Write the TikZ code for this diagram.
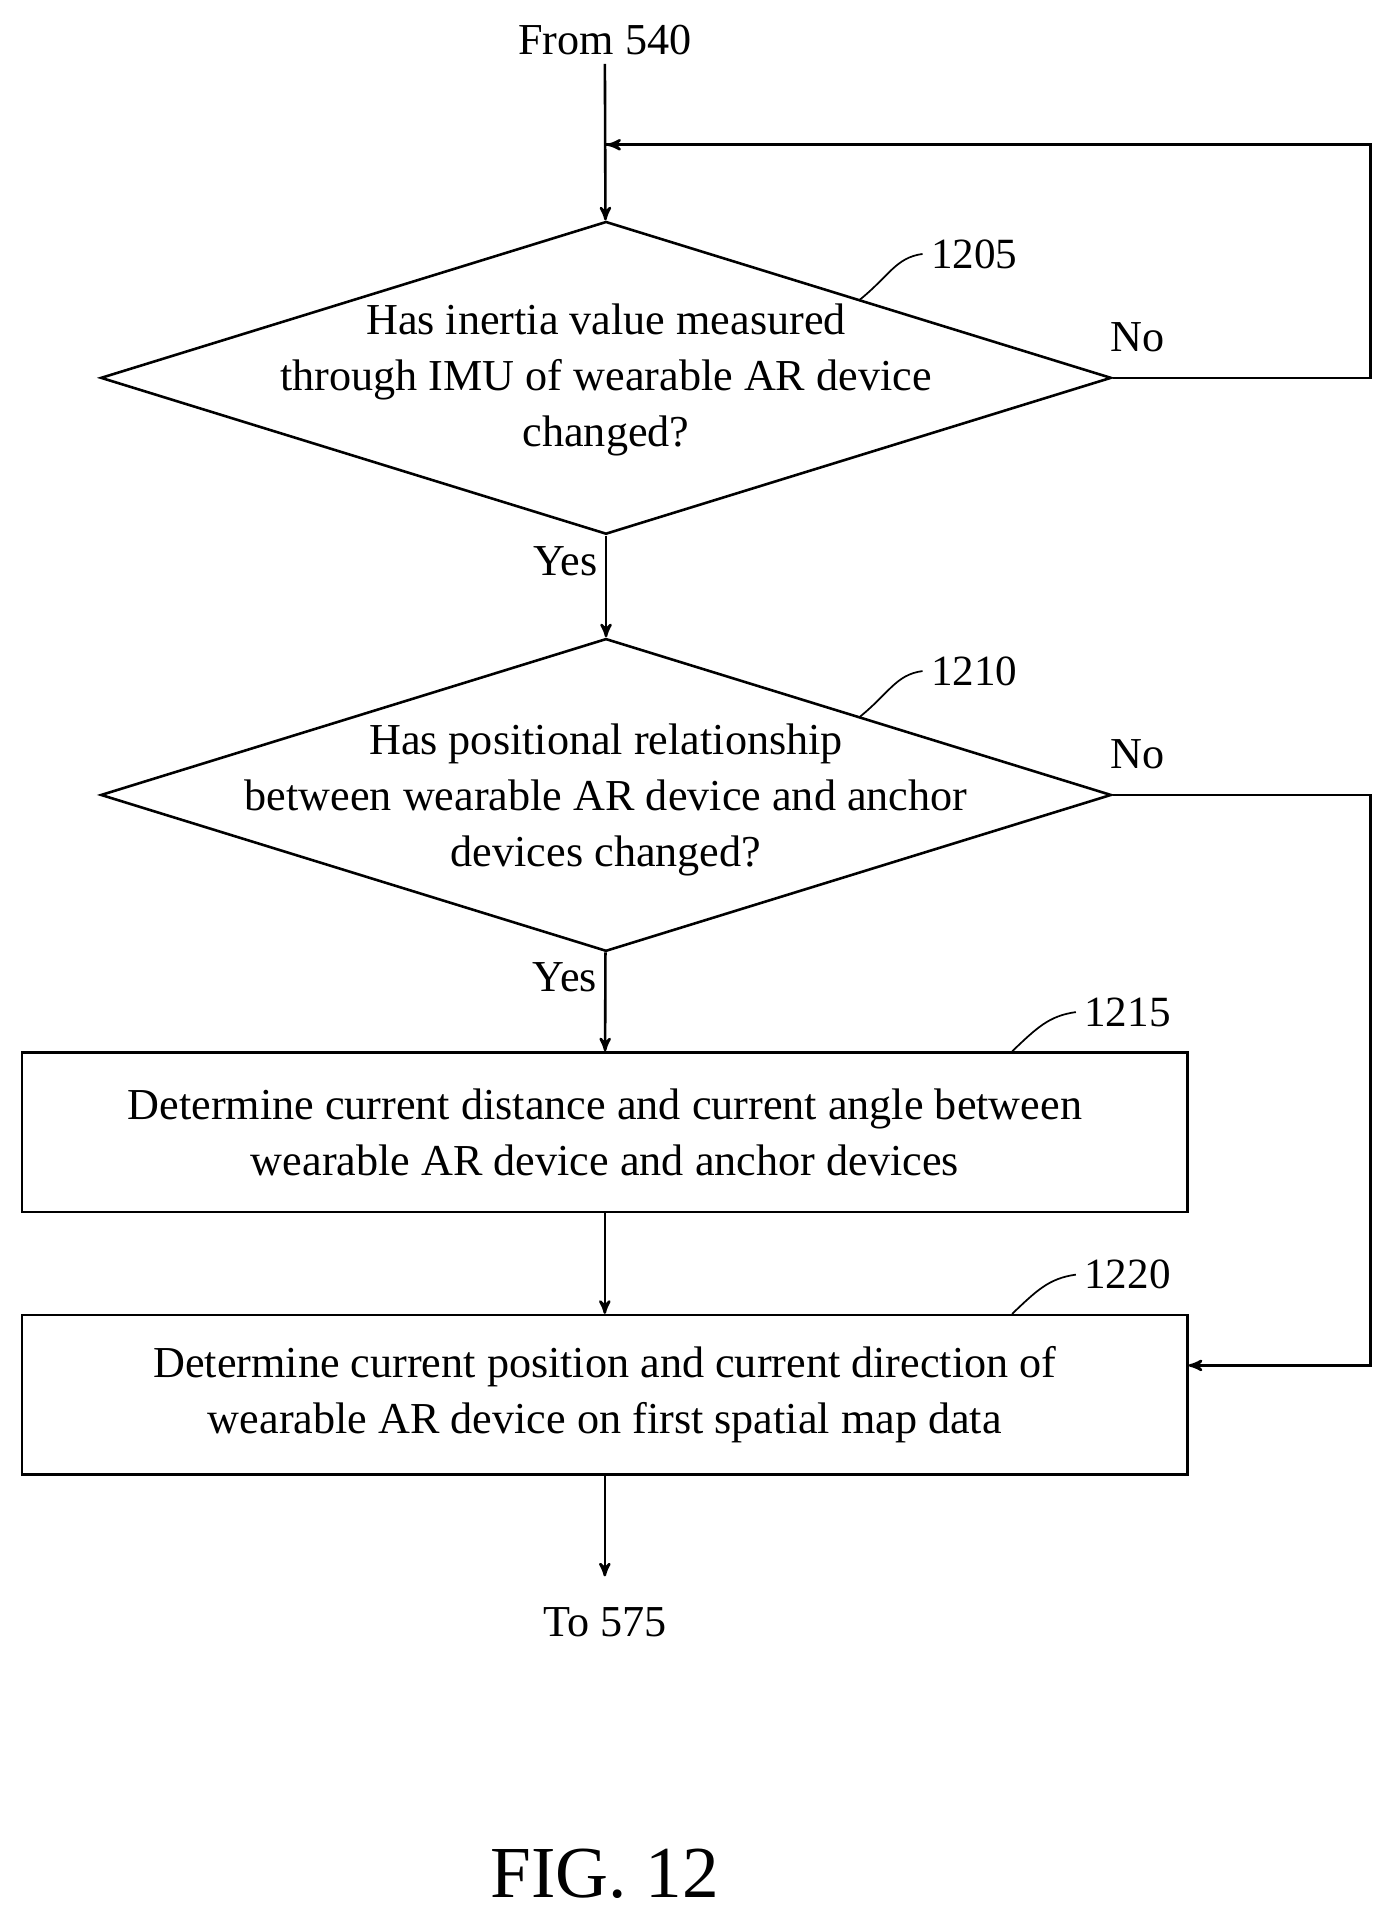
\documentclass[tikz,border=0pt]{standalone}
\usepackage{fontspec}
\setmainfont{Liberation Serif}
\usetikzlibrary{arrows,shapes.geometric}

\begin{document}
\begin{tikzpicture}[x=0.02cm,y=-0.02cm,->,>=stealth',line width=1.2pt,
  txt/.style={font=\fontsize{20.5}{26}\selectfont,align=center},
  decision node/.style={diamond,draw,inner sep=0pt,
        minimum width=16.48cm,minimum height=5.1cm},
  step node/.style={rectangle,draw,txt,minimum width=19cm,minimum height=2.6cm},
  ref label/.style={font=\fontsize{20}{23}\selectfont,anchor=west}]
  \useasboundingbox (0,0) rectangle (1130,1561);
  \node[txt] (start) at (493,33) {From 540};
  \node[decision node] (1205) at (494,308) {};
  \node[txt] (q1205) at (494,310) {Has inertia value measured\\through IMU of wearable AR device\\changed?};
  \node[decision node] (1210) at (494,648) {};
  \node[txt] (q1210) at (494,652) {Has positional relationship\\between wearable AR device and anchor\\devices changed?};
  \node[step node] (1215) at (493,923) {Determine current distance and current angle between\\wearable AR device and anchor devices};
  \node[step node] (1220) at (493,1137) {Determine current position and current direction of\\wearable AR device on first spatial map data};
  \node[txt] (end) at (493,1322) {To 575};
  \coordinate (loop) at (493,118);
  \coordinate (stop) at (493,1285);

  \path
    (start) edge (1205)
    (1205) edge node[txt,left,pos=0.25]{Yes} (1210)
    (1210) edge node[txt,left,pos=0.25]{Yes} (1215)
    (1215) edge (1220)
    (1220) edge (stop);
  \draw[-] (1205.east) -- (1117,308) -- (1117,118) -- (loop);
  \draw[->] (1117,118) -- (495,118);
  \draw (1210.east) -- (1117,648) -- (1117,1113) -- (1220.east |- 0,1113);
  \node[txt] (no1) at (927,275) {No};
  \node[txt] (no2) at (927,615) {No};

  % reference numerals
  \draw[-,line width=0.8pt] (700,245) .. controls (725,225) and (730,210) .. (752,207);
  \node[ref label] (r1205) at (752,207) {1205};
  \draw[-,line width=0.8pt] (700,585) .. controls (725,565) and (730,550) .. (752,547);
  \node[ref label] (r1210) at (752,547) {1210};
  \draw[-,line width=0.8pt] (825,857) .. controls (845,838) and (855,828) .. (877,825);
  \node[ref label] (r1215) at (877,825) {1215};
  \draw[-,line width=0.8pt] (825,1071) .. controls (845,1052) and (855,1042) .. (877,1039);
  \node[ref label] (r1220) at (877,1039) {1220};

  \node[font=\fontsize{34}{40}\selectfont] (fig) at (493,1527) {FIG. 12};
\end{tikzpicture}
\end{document}
